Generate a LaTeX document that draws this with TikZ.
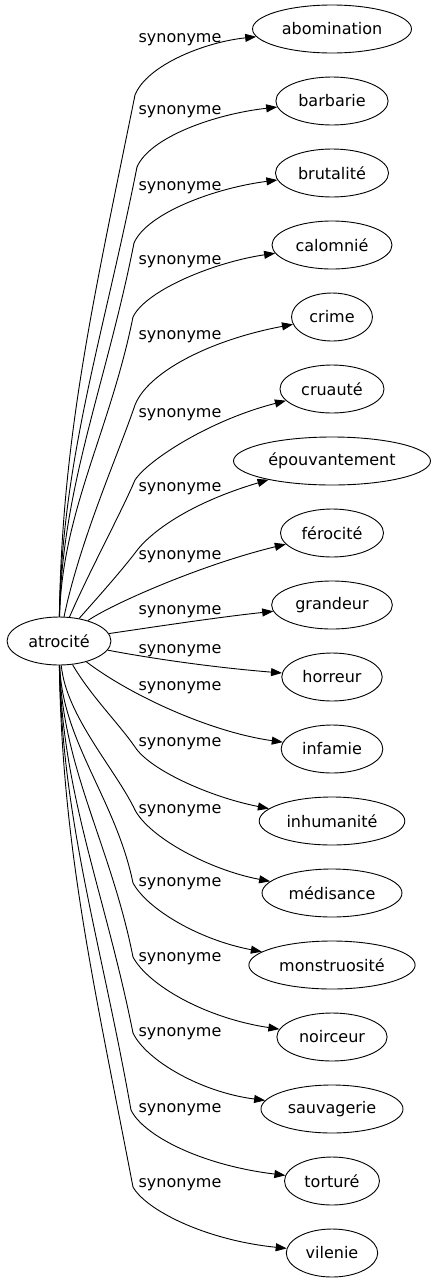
\documentclass[tikz,border=0pt]{standalone}
\usepackage{fontspec}
\setmainfont{DejaVu Sans}
\usetikzlibrary{shapes.geometric,arrows.meta}
\begin{document}
\begin{tikzpicture}[x=1pt,y=-1pt,
  every node/.style={font=\fontsize{16pt}{19pt}\selectfont},
  ell/.style={draw,ellipse,line width=0.9pt,inner xsep=6pt,inner ysep=1pt,minimum height=48pt},
  lab/.style={anchor=base,inner sep=0pt},
  edge/.style={line width=0.9pt,-{Triangle[length=11pt,width=8pt]}}]
\useasboundingbox (0,0) rectangle (432,1283);
\node[ell] (src) at (59,641) {atrocité};
\node[ell] (t1) at (332,29) {abomination};
\node[ell] (t2) at (332,101) {barbarie};
\node[ell] (t3) at (332,173) {brutalité};
\node[ell] (t4) at (332,245) {calomnié};
\node[ell] (t5) at (332,317) {crime};
\node[ell] (t6) at (332,389) {cruauté};
\node[ell] (t7) at (332,461) {épouvantement};
\node[ell] (t8) at (332,533) {férocité};
\node[ell] (t9) at (332,605) {grandeur};
\node[ell] (t10) at (332,677) {horreur};
\node[ell] (t11) at (332,749) {infamie};
\node[ell] (t12) at (332,821) {inhumanité};
\node[ell] (t13) at (332,893) {médisance};
\node[ell] (t14) at (332,965) {monstruosité};
\node[ell] (t15) at (332,1037) {noirceur};
\node[ell] (t16) at (332,1109) {sauvagerie};
\node[ell] (t17) at (332,1181) {torturé};
\node[ell] (t18) at (332,1253) {vilenie};
% labels
\node[lab] (l1) at (180,42) {synonyme};
\node[lab] (l2) at (180,114) {synonyme};
\node[lab] (l3) at (180,190) {synonyme};
\node[lab] (l4) at (180,264) {synonyme};
\node[lab] (l5) at (180,339) {synonyme};
\node[lab] (l6) at (180,417) {synonyme};
\node[lab] (l7) at (180,491) {synonyme};
\node[lab] (l8) at (180,559) {synonyme};
\node[lab] (l9) at (180,614) {synonyme};
\node[lab] (l10) at (180,653) {synonyme};
\node[lab] (l11) at (180,690) {synonyme};
\node[lab] (l12) at (180,746) {synonyme};
\node[lab] (l13) at (180,813) {synonyme};
\node[lab] (l14) at (180,886) {synonyme};
\node[lab] (l15) at (180,961) {synonyme};
\node[lab] (l16) at (180,1036) {synonyme};
\node[lab] (l17) at (180,1112) {synonyme};
\node[lab] (l18) at (180,1187) {synonyme};
% upper edges
\draw[edge] (src) .. controls (62,434) and (95,293) .. (135,95) .. controls (147,65) and (205,42) .. (t1);
\draw[edge] (src) .. controls (62,459) and (103,338) .. (137,167) .. controls (150,137) and (215,114) .. (t2);
\draw[edge] (src) .. controls (62,486) and (106,385) .. (134,243) .. controls (147,213) and (215,188) .. (t3);
\draw[edge] (src) .. controls (62,512) and (110,431) .. (133,317) .. controls (146,290) and (215,262) .. (t4);
\draw[edge] (src) .. controls (80,540) and (118,455) .. (135,405) .. controls (148,372) and (210,340) .. (t5);
\draw[edge] (src) .. controls (90,570) and (120,515) .. (135,480) .. controls (148,460) and (210,420) .. (t6);
\draw[edge] (src) .. controls (100,595) and (122,570) .. (135,553) .. controls (150,532) and (190,503) .. (t7);
\draw[edge] (src) .. controls (110,605) and (200,565) .. (t8);
% middle edges
\draw[edge] (src) .. controls (160,626) and (220,617) .. (t9);
\draw[edge] (src) .. controls (160,660) and (220,668) .. (t10);
\draw[edge] (src) .. controls (130,695) and (210,732) .. (t11);
% lower edges
\draw[edge] (src) .. controls (90,695) and (120,725) .. (135,747) .. controls (150,770) and (210,797) .. (t12);
\draw[edge] (src) .. controls (66,716) and (116,770) .. (135,810) .. controls (150,838) and (210,870) .. (t13);
\draw[edge] (src) .. controls (62,741) and (116,800) .. (133,883) .. controls (148,910) and (200,940) .. (t14);
\draw[edge] (src) .. controls (62,767) and (111,846) .. (133,957) .. controls (148,985) and (205,1018) .. (t15);
\draw[edge] (src) .. controls (62,794) and (105,893) .. (133,1033) .. controls (146,1060) and (200,1092) .. (t16);
\draw[edge] (src) .. controls (62,821) and (101,941) .. (131,1110) .. controls (143,1135) and (200,1165) .. (t17);
\draw[edge] (src) .. controls (62,848) and (95,989) .. (133,1187) .. controls (146,1210) and (205,1240) .. (t18);
\end{tikzpicture}
\end{document}
